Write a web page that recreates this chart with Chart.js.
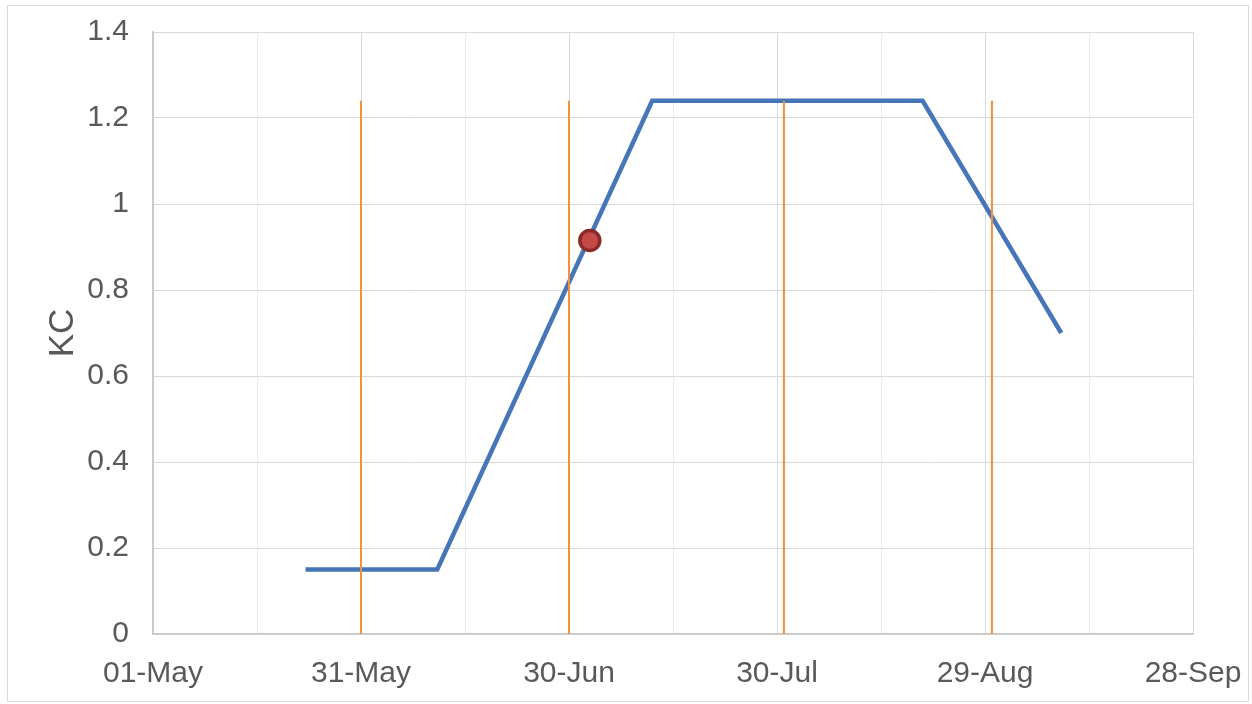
<!DOCTYPE html>
<html>
<head>
<meta charset="utf-8">
<script src="https://cdn.jsdelivr.net/npm/chart.js@4/dist/chart.umd.min.js"></script>
<style>
  html, body { margin: 0; padding: 0; background: #fff; }
  #wrap { width: 1252px; height: 704px; }
</style>
</head>
<body>
<div id="wrap"><canvas id="myChart" width="1252" height="704"></canvas></div>
<script>
// days counted from 01-May
const xTickLabels = ['01-May', '31-May', '30-Jun', '30-Jul', '29-Aug', '28-Sep'];
const yTickLabels = ['0', '0.2', '0.4', '0.6', '0.8', '1', '1.2', '1.4'];
const kcDays = [22, 41, 72, 111, 131];
const kcValues = [0.15, 0.15, 1.24, 1.24, 0.7];
const stageDays = [30, 60, 91, 121];
const stageTop = 1.24;
const markDay = [63];
const markValue = [0.915];

const kcData = kcDays.map((d, i) => ({ x: d, y: kcValues[i] }));
const stageSets = stageDays.map(d => ({
    data: [{ x: d, y: 0 }, { x: d, y: stageTop }],
    borderColor: '#f39040',
    borderWidth: 2,
    pointRadius: 0,
    order: 1
}));

const frame = {
    id: 'frame',
    beforeDraw(chart) {
        const c = chart.ctx;
        c.save();
        c.fillStyle = '#fff';
        c.fillRect(0, 0, chart.width, chart.height);
        c.strokeStyle = '#d9d9d9';
        c.lineWidth = 1;
        c.strokeRect(7.5, 5.5, 1241, 696);
        c.restore();
    }
};

// keep the plot box fixed, ignore label overhang
function noPad(s) {
    s.paddingLeft = 0;
    s.paddingRight = 0;
    s.paddingTop = 0;
    s.paddingBottom = 0;
}

const font = "'Liberation Sans', Arial, sans-serif";
const ctx = document.getElementById('myChart').getContext('2d');
const myChart = new Chart(ctx, {
    type: 'line',
    data: {
        datasets: [
            {
                data: markDay.map((d, i) => ({ x: d, y: markValue[i] })),
                showLine: false,
                pointRadius: 10,
                pointBackgroundColor: '#c44a48',
                pointBorderColor: '#8c2a28',
                pointBorderWidth: 3.5,
                order: 0
            },
            ...stageSets,
            {
                data: kcData,
                borderColor: '#4675b8',
                borderWidth: 4.5,
                pointRadius: 0,
                order: 2
            }
        ]
    },
    options: {
        responsive: false,
        animation: false,
        layout: { padding: { left: 0, top: 32, right: 59, bottom: 0 } },
        plugins: {
            legend: { display: false },
            tooltip: { enabled: false }
        },
        scales: {
            x: {
                type: 'linear',
                min: 0,
                max: 150,
                afterFit: s => { s.height = 70; noPad(s); },
                ticks: {
                    stepSize: 15,
                    autoSkip: false,
                    maxRotation: 0,
                    padding: 22,
                    color: '#595959',
                    font: { family: font, size: 30 },
                    callback: v => (v % 30 === 0 ? xTickLabels[v / 30] : '')
                },
                grid: {
                    color: c => (c.tick && c.tick.value % 30 === 0 ? '#d9d9d9' : '#ececec'),
                    drawTicks: false
                },
                border: { color: '#c8c8c8', width: 1.5 }
            },
            y: {
                min: 0,
                max: 1.4,
                afterFit: s => { s.width = 153; noPad(s); },
                ticks: {
                    stepSize: 0.2,
                    padding: 24,
                    color: '#595959',
                    font: { family: font, size: 30 },
                    callback: (v, i) => yTickLabels[i]
                },
                grid: { color: '#d9d9d9', drawTicks: false },
                border: { color: '#c8c8c8', width: 1.5 },
                title: {
                    display: true,
                    text: 'KC',
                    color: '#595959',
                    font: { family: font, size: 35 },
                    padding: { top: 42, bottom: 0 }
                }
            }
        }
    },
    plugins: [frame]
});
</script>
</body>
</html>
